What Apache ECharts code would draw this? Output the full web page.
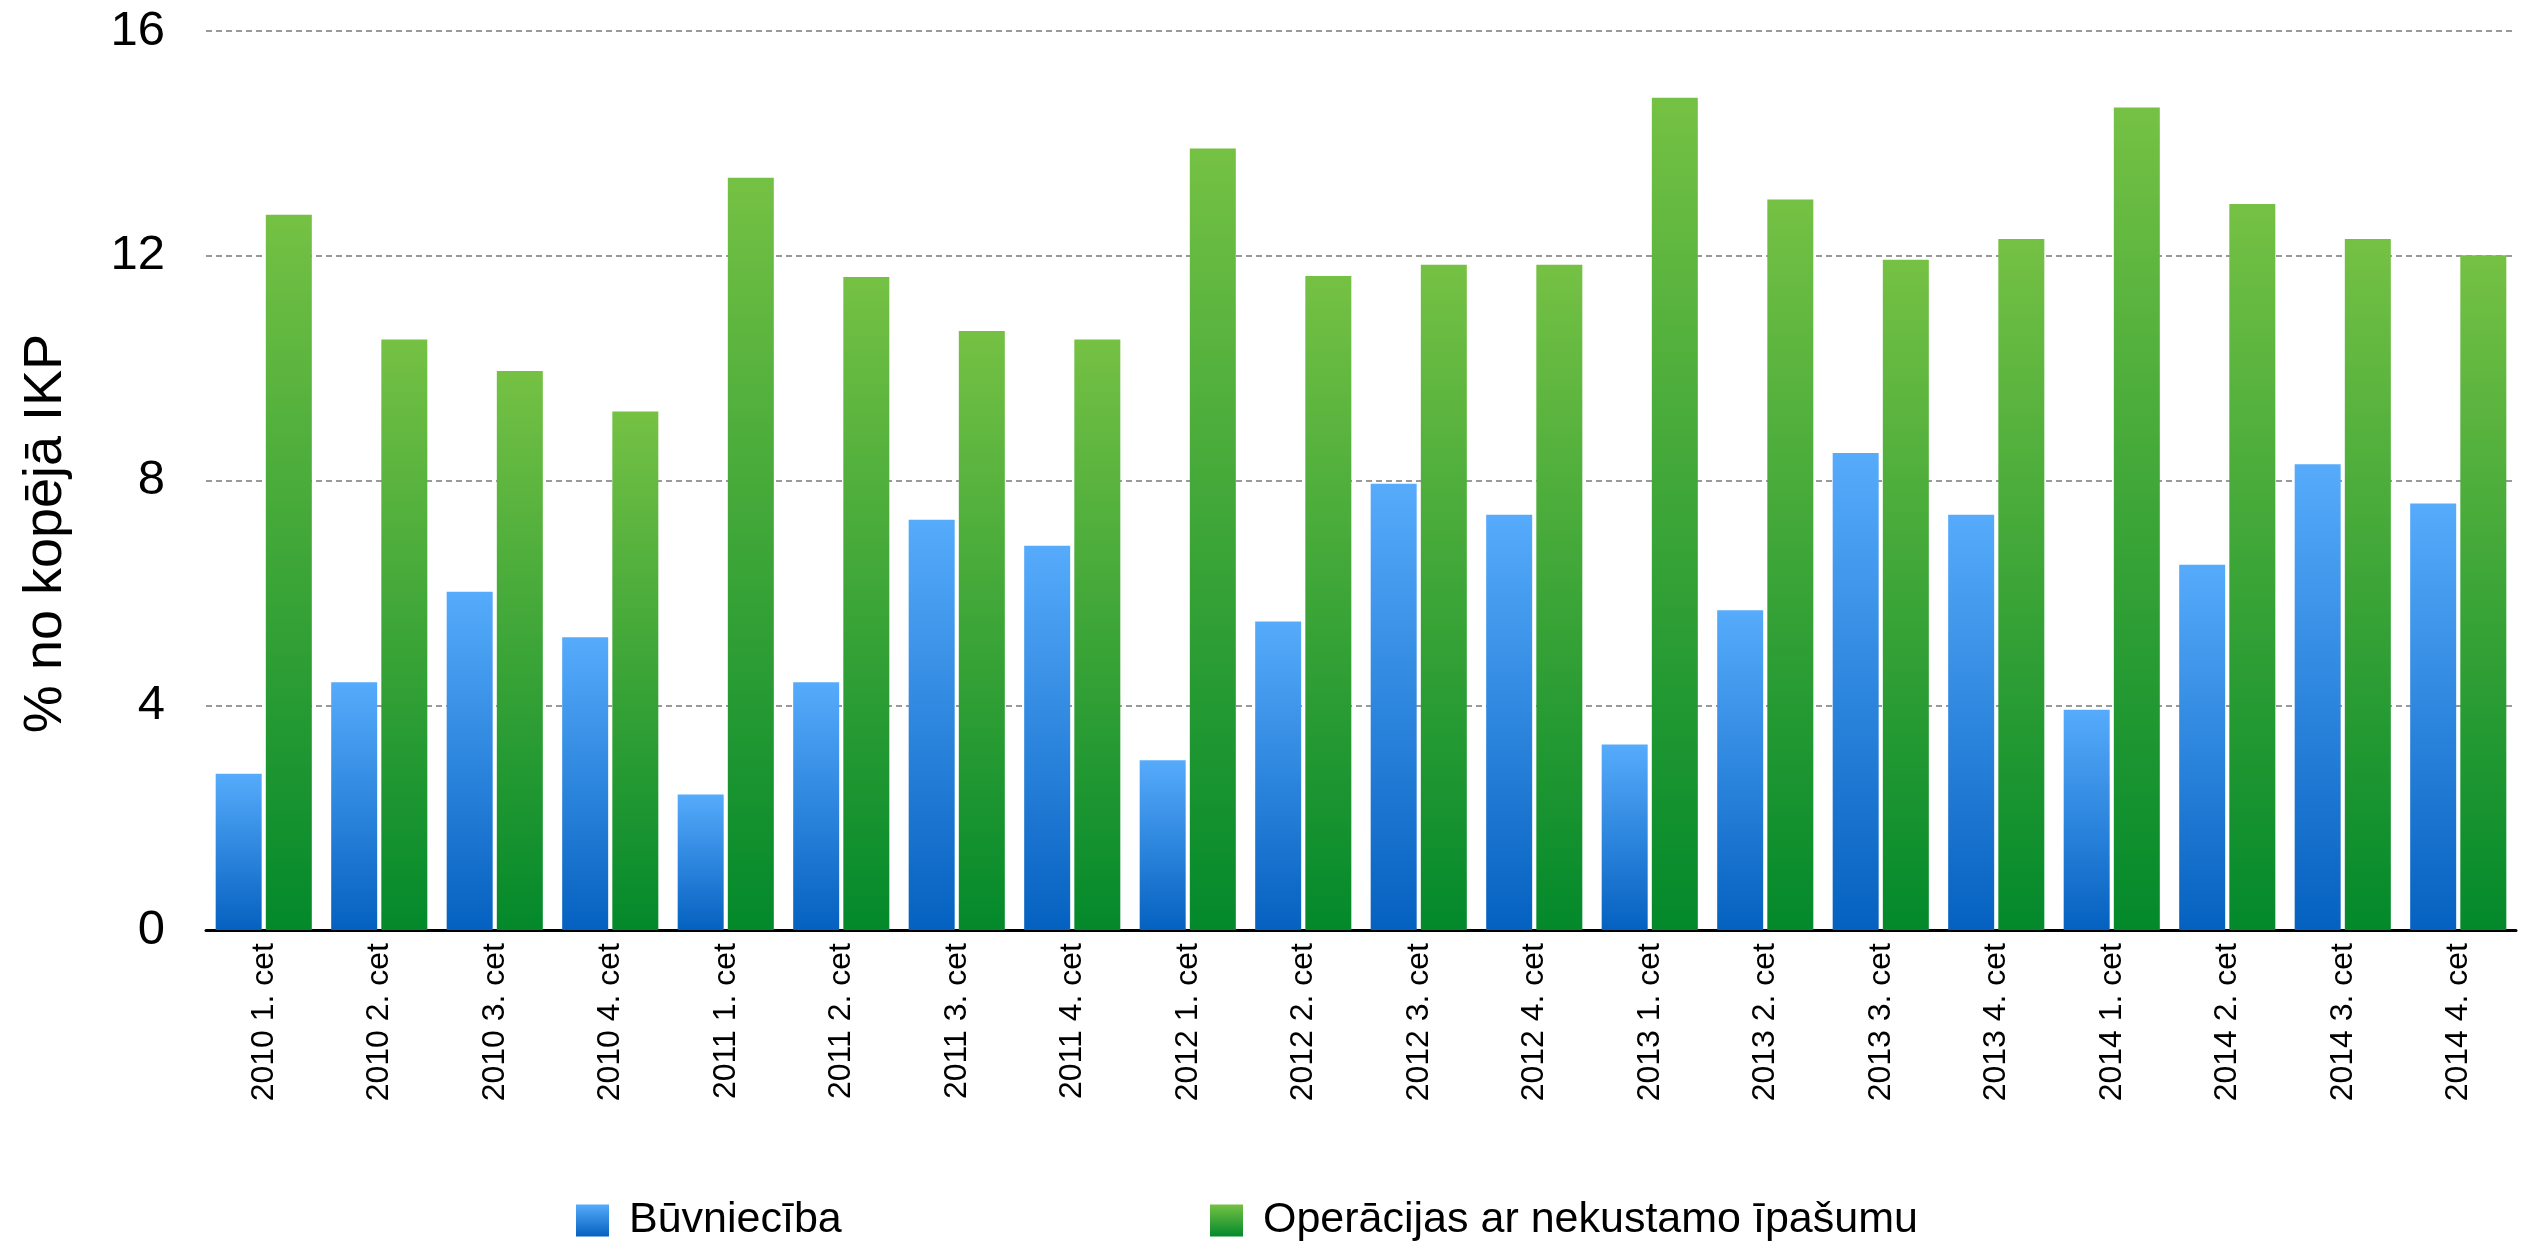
<!DOCTYPE html>
<html>
<head>
<meta charset="utf-8">
<title>Būvniecība un operācijas ar nekustamo īpašumu</title>
<script src="https://cdn.jsdelivr.net/npm/echarts@6/dist/echarts.min.js"></script>
<style>
  html, body { margin: 0; padding: 0; background: #fff; }
  #chart { width: 2531px; height: 1244px; }
</style>
</head>
<body>
<div id="chart"></div>
<script>
// ceturkšņi
const quarters = [
  '2010 1. cet', '2010 2. cet', '2010 3. cet', '2010 4. cet',
  '2011 1. cet', '2011 2. cet', '2011 3. cet', '2011 4. cet',
  '2012 1. cet', '2012 2. cet', '2012 3. cet', '2012 4. cet',
  '2013 1. cet', '2013 2. cet', '2013 3. cet', '2013 4. cet',
  '2014 1. cet', '2014 2. cet', '2014 3. cet', '2014 4. cet'
];
// būvniecība, % no IKP
const buvnieciba = [
  2.78, 4.41, 6.02, 5.21, 2.41, 4.41, 7.30, 6.84, 3.02, 5.49,
  7.94, 7.39, 3.30, 5.69, 8.49, 7.39, 3.92, 6.50, 8.29, 7.59
];
// operācijas ar nekustamo īpašumu, % no IKP
const nekustamais = [
  12.73, 10.51, 9.95, 9.23, 13.39, 11.62, 10.66, 10.51, 13.91, 11.64,
  11.84, 11.84, 14.81, 13.00, 11.93, 12.30, 14.64, 12.92, 12.30, 12.01
];
const yTicks = [0, 4, 8, 12, 16];

const fontFam = '"Liberation Sans", Arial, sans-serif';

const blueGrad = new echarts.graphic.LinearGradient(0, 0, 0, 1, [
  { offset: 0, color: '#56abfb' },
  { offset: 1, color: '#0561c0' }
]);
const greenGrad = new echarts.graphic.LinearGradient(0, 0, 0, 1, [
  { offset: 0, color: '#75c144' },
  { offset: 1, color: '#03892b' }
]);

const myChart = echarts.init(document.getElementById('chart'));

// leģendas teksta stils
const legendText = { fontFamily: fontFam, fontSize: 43, color: '#000', padding: [0, 0, 0, 15] };

const option = {
  backgroundColor: '#fff',
  animation: false,
  grid: { left: 206, right: 15, top: 31, bottom: 314 },
  legend: [
    {
      data: ['Būvniecība'],
      left: 571, top: 1194,
      itemWidth: 33, itemHeight: 32,
      icon: 'rect',
      textStyle: legendText
    },
    {
      data: ['Operācijas ar nekustamo īpašumu'],
      left: 1205, top: 1194,
      itemWidth: 33, itemHeight: 32,
      icon: 'rect',
      textStyle: legendText
    }
  ],
  xAxis: {
    type: 'category',
    data: quarters,
    axisLine: { lineStyle: { color: '#000', width: 3 } },
    axisTick: { show: false },
    axisLabel: {
      rotate: 90,
      interval: 0,
      margin: 13,
      fontFamily: fontFam,
      fontSize: 32,
      color: '#000'
    }
  },
  yAxis: {
    type: 'value',
    min: yTicks[0],
    max: yTicks[yTicks.length - 1],
    interval: 4,
    name: '% no kopējā IKP',
    nameLocation: 'middle',
    nameGap: 133,
    nameTextStyle: { fontFamily: fontFam, fontSize: 54, color: '#000', padding: [0, 106, 0, 0] },
    axisLine: { show: false },
    axisTick: { show: false },
    axisLabel: { margin: 41, fontFamily: fontFam, fontSize: 49, color: '#000' },
    splitLine: { lineStyle: { color: '#999', width: 2, type: [6, 4] } }
  },
  series: [
    {
      name: 'Būvniecība',
      type: 'bar',
      data: buvnieciba,
      barWidth: 46,
      barGap: '9%',
      itemStyle: { color: blueGrad }
    },
    {
      name: 'Operācijas ar nekustamo īpašumu',
      type: 'bar',
      data: nekustamais,
      barWidth: 46,
      itemStyle: { color: greenGrad }
    }
  ]
};

myChart.setOption(option);
</script>
</body>
</html>
